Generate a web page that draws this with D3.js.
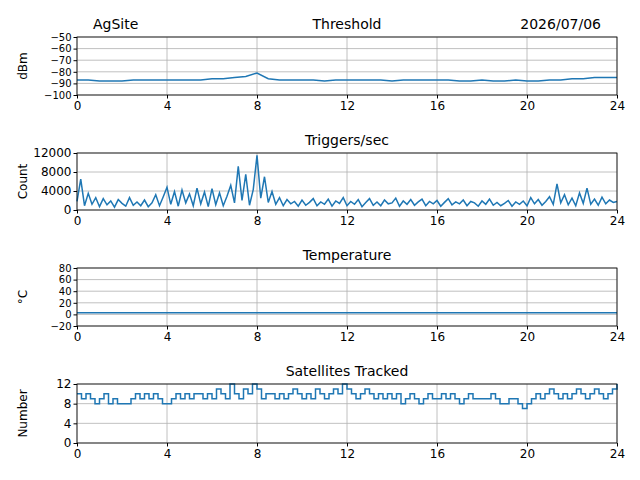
<!DOCTYPE html>
<html><head><meta charset="utf-8">
<script src="https://cdn.jsdelivr.net/npm/d3@7"></script>
<style>body{margin:0;background:#fff}text{font-family:"DejaVu Sans",sans-serif}</style>
</head><body>
<script>
var hourTicks = [0,4,8,12,16,20,24];

var thresholdVals = [-87,-87,-88,-88,-88,-87,-87,-87,-87,-87,-87,-87,-86,-86,
  -85,-84,-81,-86,-87,
  -87,-87,-87,-88,-87,-87,-87,-87,-87,-88,-87,-87,-87,-87,-87,-88,-88,-87,-88,-88,-87,
  -88,-88,-87,-87,-86,-86,-85,-85,-85];

var triggerVals = [1800,6500,900,3500,1200,2600, 700,2400,1100,1900,600,2200,
  1400,800,2600,1000,1700,900, 2100,700,1500,3200,900,2800,
  4800,1200,3900,800,4200,1500, 3400,900,4600,1300,3800,700,
  4500,1100,3600,900,2900,5200, 1500,9200,2000,7500,1000,4300,
  11500,2500,7000,1600,3900,1200, 2600,900,2200,1300,1800,800,
  2100,1000,1600,2400,900,1700, 1200,2300,800,1900,1400,2600,
  900,1800,1200,2200,700,1600, 2400,1000,1700,900,2100,1300,
  1500,2500,800,1900,1200,2200, 1000,1700,2300,900,1800,1300,
  2000,800,1600,2400,1100,1700, 1300,2100,900,1800,1500,800,
  1900,1200,2300,1000,1600,900, 1400,2000,800,1700,1200,1900,
  900,2600,1300,2200,1000,1800, 2800,1200,5500,1500,3200,1100,
  2500,900,3600,1400,4600,1200, 2300,1000,2700,1300,2100,1600, 1800];

var tempVals = [3,3];

var satVals = [10,9,10,9,8,9,10,8,9,8, 8,8,9,10,9,10,9,10,9,8,
  8,9,10,9,10,9,10,10,9,10, 9,11,10,9,12,10,9,11,10,12,
  11,9,10,10,9,10,9,10,11,10, 9,10,9,11,10,9,10,11,10,12,
  11,10,9,10,11,10,9,10,9,10, 9,10,8,9,10,9,8,9,10,9,
  9,10,9,10,9,8,9,10,9,9, 9,9,10,9,8,8,9,9,8,7,
  8,9,10,9,10,11,10,9,10,9, 10,11,10,9,10,11,10,9,10,11, 12];

var panels = [
  {title:"Threshold", ylab:"dBm", top:37, bot:95, dom:[-100,-50], ticks:[-100,-90,-80,-70,-60,-50], vals:thresholdVals, step:false},
  {title:"Triggers/sec", ylab:"Count", top:153, bot:210, dom:[0,12000], ticks:[0,4000,8000,12000], vals:triggerVals, step:false},
  {title:"Temperature", ylab:"\u00B0C", top:268, bot:326, dom:[-20,80], ticks:[-20,0,20,40,60,80], vals:tempVals, step:false},
  {title:"Satellites Tracked", ylab:"Number", top:384, bot:443, dom:[0,12], ticks:[0,4,8,12], vals:satVals, step:true}
];

var svg = d3.select('body').append('svg').attr('width',640).attr('height',480);
var x = d3.scaleLinear().domain([0,24]).range([77,617]);

panels.forEach(function(p){
  var y = d3.scaleLinear().domain(p.dom).range([p.bot,p.top]);
  var g = svg.append('g');
  g.selectAll('.gx').data(hourTicks).enter().append('line')
    .attr('x1',x).attr('x2',x).attr('y1',p.top).attr('y2',p.bot)
    .attr('stroke','#b0b0b0').attr('stroke-width',0.8);
  g.selectAll('.gy').data(p.ticks).enter().append('line')
    .attr('x1',77).attr('x2',617).attr('y1',y).attr('y2',y)
    .attr('stroke','#b0b0b0').attr('stroke-width',0.8);
  var n = p.vals.length - 1;
  var line = d3.line()
    .x(function(d,i){ return x(i*24/n); })
    .y(function(d){ return y(d); })
    .curve(p.step ? d3.curveStepAfter : d3.curveLinear);
  g.append('path').datum(p.vals).attr('d',line)
    .attr('fill','none').attr('stroke','#1f77b4').attr('stroke-width',1.5);
  g.append('rect').attr('x',77).attr('y',p.top).attr('width',540).attr('height',p.bot-p.top)
    .attr('fill','none').attr('stroke','#000').attr('stroke-width',0.8);
  var xa = g.append('g').attr('transform','translate(0,'+p.bot+')')
    .call(d3.axisBottom(x).tickValues(hourTicks).tickSize(3.5).tickFormat(d3.format('d')));
  var ya = g.append('g').attr('transform','translate(77,0)')
    .call(d3.axisLeft(y).tickValues(p.ticks).tickSize(3.5).tickPadding(2).tickFormat(function(d){ return d<0 ? '\u2212'+(-d) : d; }));
  xa.select('.domain').remove();
  ya.select('.domain').remove();
  xa.selectAll('text').attr('font-size',12).attr('fill','#000').style('font-family','DejaVu Sans');
  ya.selectAll('text').attr('font-size',p.ticks.length > 4 ? 10 : 12).attr('fill','#000').style('font-family','DejaVu Sans');
  g.append('text').attr('x',347).attr('y',p.top-8).attr('text-anchor','middle')
    .attr('font-size',14).text(p.title);
  g.append('text').attr('transform','translate(27,'+((p.top+p.bot)/2)+') rotate(-90)')
    .attr('text-anchor','middle').attr('font-size',12).text(p.ylab);
});

svg.append('text').attr('x',93).attr('y',29).attr('font-size',14).text('AgSite');
svg.append('text').attr('x',601).attr('y',29).attr('font-size',14).attr('text-anchor','end').text('2026/07/06');
</script>
</body></html>
